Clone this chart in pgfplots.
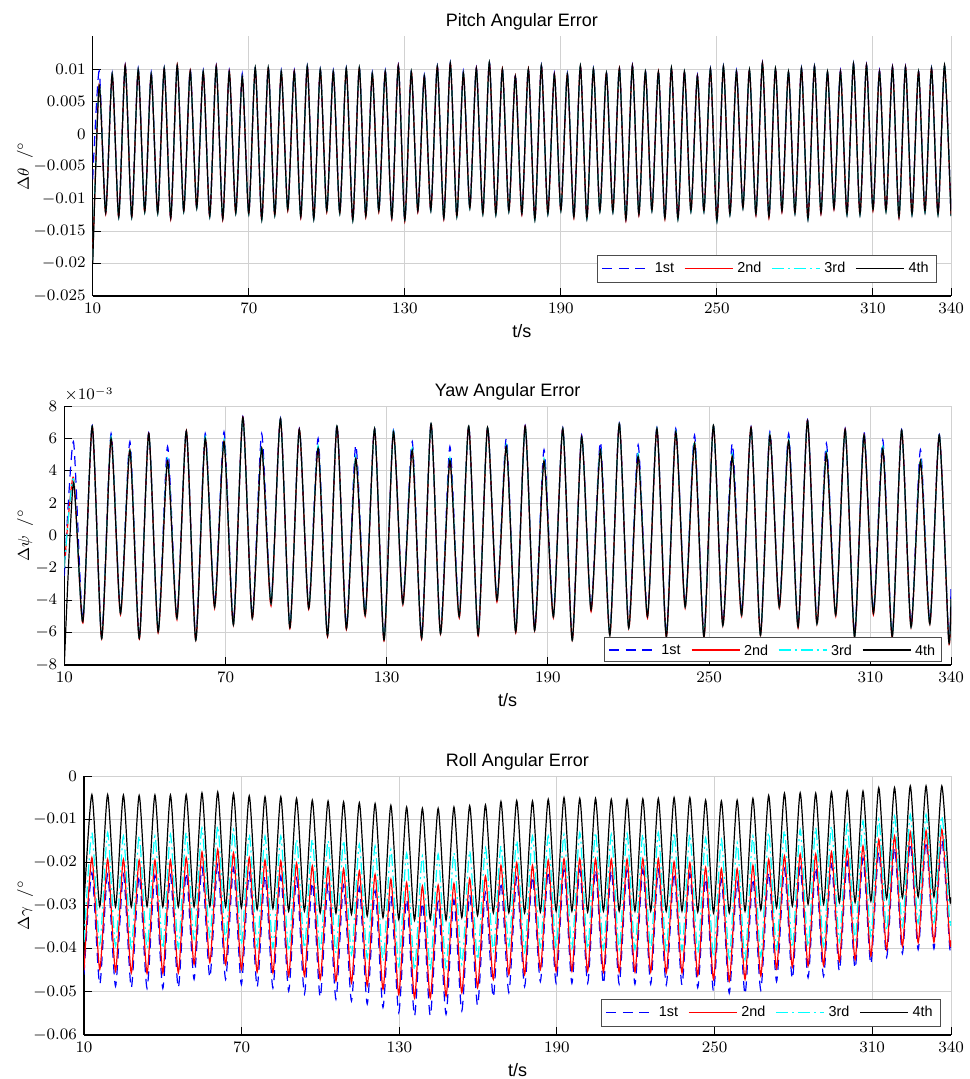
\documentclass[border=0pt]{standalone}
\usepackage{fontspec}
\setmainfont{Liberation Sans}
\usepackage{pgfplots}
\usepackage{pgfplotstable}
\pgfplotsset{compat=1.18}
\definecolor{mblue}{rgb}{0,0,1}
\definecolor{mred}{rgb}{1,0,0}
\definecolor{mcyan}{rgb}{0,1,1}
\definecolor{mblack}{rgb}{0,0,0}

\pgfplotstableread{
t a b d
10 -0.0070 -0.0195 -0.0200
12.5 0.0097 0.0076 0.0075
15 -0.0121 -0.0123 -0.0122
17.5 0.0094 0.0092 0.0092
20 -0.0127 -0.0129 -0.0128
22.5 0.0106 0.0105 0.0105
25 -0.0127 -0.0129 -0.0128
27.5 0.0101 0.0099 0.0099
30 -0.0119 -0.0121 -0.0120
32.5 0.0095 0.0092 0.0092
35 -0.0121 -0.0123 -0.0122
37.5 0.0102 0.0101 0.0101
40 -0.0129 -0.0131 -0.0130
42.5 0.0107 0.0106 0.0106
45 -0.0118 -0.0120 -0.0119
47.5 0.0100 0.0097 0.0097
50 -0.0113 -0.0115 -0.0114
52.5 0.0098 0.0096 0.0096
55 -0.0126 -0.0128 -0.0127
57.5 0.0105 0.0104 0.0104
60 -0.0130 -0.0132 -0.0131
62.5 0.0098 0.0096 0.0096
65 -0.0121 -0.0123 -0.0122
67.5 0.0093 0.0088 0.0088
70 -0.0122 -0.0124 -0.0123
72.5 0.0103 0.0102 0.0102
75 -0.0131 -0.0133 -0.0132
77.5 0.0103 0.0102 0.0102
80 -0.0124 -0.0126 -0.0125
82.5 0.0098 0.0096 0.0096
85 -0.0116 -0.0118 -0.0117
87.5 0.0098 0.0096 0.0096
90 -0.0127 -0.0129 -0.0128
92.5 0.0105 0.0104 0.0104
95 -0.0130 -0.0132 -0.0131
97.5 0.0100 0.0099 0.0099
100 -0.0118 -0.0120 -0.0119
102.5 0.0098 0.0096 0.0096
105 -0.0121 -0.0123 -0.0122
107.5 0.0102 0.0101 0.0101
110 -0.0132 -0.0134 -0.0133
112.5 0.0103 0.0102 0.0102
115 -0.0126 -0.0128 -0.0127
117.5 0.0095 0.0093 0.0093
120 -0.0118 -0.0120 -0.0119
122.5 0.0098 0.0096 0.0096
125 -0.0129 -0.0131 -0.0130
127.5 0.0106 0.0105 0.0105
130 -0.0132 -0.0134 -0.0133
132.5 0.0098 0.0096 0.0096
135 -0.0118 -0.0120 -0.0119
137.5 0.0091 0.0089 0.0089
140 -0.0117 -0.0119 -0.0118
142.5 0.0105 0.0104 0.0104
145 -0.0129 -0.0131 -0.0130
147.5 0.0110 0.0109 0.0109
150 -0.0126 -0.0128 -0.0127
152.5 0.0097 0.0094 0.0094
155 -0.0113 -0.0115 -0.0114
157.5 0.0102 0.0101 0.0101
160 -0.0122 -0.0124 -0.0123
162.5 0.0111 0.0110 0.0110
165 -0.0123 -0.0125 -0.0124
167.5 0.0101 0.0100 0.0100
170 -0.0118 -0.0120 -0.0119
172.5 0.0093 0.0089 0.0089
175 -0.0122 -0.0124 -0.0123
177.5 0.0101 0.0100 0.0100
180 -0.0131 -0.0133 -0.0132
182.5 0.0106 0.0105 0.0105
185 -0.0122 -0.0124 -0.0123
187.5 0.0094 0.0092 0.0092
190 -0.0117 -0.0119 -0.0118
192.5 0.0094 0.0092 0.0092
195 -0.0127 -0.0129 -0.0128
197.5 0.0106 0.0105 0.0105
200 -0.0129 -0.0131 -0.0130
202.5 0.0101 0.0100 0.0100
205 -0.0118 -0.0120 -0.0119
207.5 0.0096 0.0094 0.0094
210 -0.0119 -0.0121 -0.0120
212.5 0.0102 0.0101 0.0101
215 -0.0131 -0.0133 -0.0132
217.5 0.0106 0.0105 0.0105
220 -0.0123 -0.0125 -0.0124
222.5 0.0098 0.0096 0.0096
225 -0.0117 -0.0119 -0.0118
227.5 0.0098 0.0096 0.0096
230 -0.0129 -0.0131 -0.0130
232.5 0.0103 0.0102 0.0102
235 -0.0130 -0.0132 -0.0131
237.5 0.0098 0.0096 0.0096
240 -0.0118 -0.0120 -0.0119
242.5 0.0091 0.0089 0.0089
245 -0.0118 -0.0120 -0.0119
247.5 0.0101 0.0100 0.0100
250 -0.0133 -0.0135 -0.0134
252.5 0.0105 0.0104 0.0104
255 -0.0123 -0.0125 -0.0124
257.5 0.0098 0.0096 0.0096
260 -0.0113 -0.0115 -0.0114
262.5 0.0100 0.0099 0.0099
265 -0.0123 -0.0125 -0.0124
267.5 0.0110 0.0109 0.0109
270 -0.0127 -0.0129 -0.0128
272.5 0.0102 0.0101 0.0101
275 -0.0118 -0.0120 -0.0119
277.5 0.0098 0.0096 0.0096
280 -0.0121 -0.0123 -0.0122
282.5 0.0102 0.0101 0.0101
285 -0.0130 -0.0132 -0.0131
287.5 0.0105 0.0104 0.0104
290 -0.0121 -0.0123 -0.0122
292.5 0.0098 0.0096 0.0096
295 -0.0114 -0.0116 -0.0115
297.5 0.0098 0.0096 0.0096
300 -0.0123 -0.0125 -0.0124
302.5 0.0109 0.0108 0.0108
305 -0.0123 -0.0125 -0.0124
307.5 0.0107 0.0106 0.0106
310 -0.0116 -0.0118 -0.0117
312.5 0.0098 0.0096 0.0096
315 -0.0118 -0.0120 -0.0119
317.5 0.0104 0.0103 0.0103
320 -0.0127 -0.0129 -0.0128
322.5 0.0104 0.0103 0.0103
325 -0.0123 -0.0125 -0.0124
327.5 0.0098 0.0096 0.0096
330 -0.0119 -0.0121 -0.0120
332.5 0.0102 0.0101 0.0101
335 -0.0123 -0.0125 -0.0124
337.5 0.0107 0.0106 0.0106
340 -0.0125 -0.0127 -0.0126
}\pitchtab

\pgfplotstableread{
t a b c d
10 -2.50 -2.00 -2.00 -8.00
13.40 5.80 3.60 3.50 3.25
16.90 -5.20 -5.40 -5.33 -5.33
20.41 6.80 6.75 6.75 6.75
23.91 -6.20 -6.40 -6.36 -6.36
27.41 6.30 6.00 6.10 6.00
30.91 -4.65 -4.90 -4.80 -4.80
34.42 5.80 5.27 5.40 5.27
37.92 -6.20 -6.40 -6.36 -6.36
41.42 6.35 6.30 6.30 6.30
44.92 -5.80 -6.00 -5.95 -5.95
48.43 5.50 4.60 4.75 4.60
51.93 -4.95 -5.20 -5.10 -5.10
55.43 6.50 6.46 6.46 6.46
58.93 -6.30 -6.50 -6.46 -6.46
62.44 6.30 6.00 6.10 6.00
65.94 -4.25 -4.50 -4.40 -4.40
69.44 6.40 5.80 5.95 5.80
72.94 -5.35 -5.55 -5.50 -5.50
76.45 7.35 7.30 7.30 7.30
79.95 -4.95 -5.15 -5.10 -5.10
83.45 6.30 5.40 5.55 5.40
86.95 -4.05 -4.35 -4.20 -4.20
90.46 7.25 7.20 7.20 7.20
93.96 -5.55 -5.75 -5.70 -5.70
97.46 6.60 6.55 6.55 6.55
100.96 -4.35 -4.55 -4.50 -4.50
104.47 6.00 5.40 5.55 5.40
107.97 -6.05 -6.25 -6.20 -6.20
111.47 6.80 6.75 6.75 6.75
114.97 -5.60 -5.80 -5.75 -5.75
118.48 5.60 4.75 4.90 4.75
121.98 -4.75 -5.00 -4.90 -4.90
125.48 6.65 6.60 6.60 6.60
128.98 -6.30 -6.50 -6.46 -6.46
132.49 6.50 6.40 6.45 6.40
135.99 -4.05 -4.30 -4.20 -4.20
139.49 5.80 5.27 5.40 5.27
142.99 -6.20 -6.40 -6.36 -6.36
146.50 6.95 6.90 6.90 6.90
150.00 -5.90 -6.10 -6.05 -6.05
153.50 5.50 4.65 4.80 4.65
157.00 -4.85 -5.10 -5.00 -5.00
160.51 6.80 6.75 6.75 6.75
164.01 -6.00 -6.20 -6.15 -6.15
167.51 6.70 6.67 6.67 6.67
171.01 -3.85 -4.10 -4.00 -4.00
174.52 6.00 5.50 5.60 5.50
178.02 -5.80 -6.00 -5.95 -5.95
181.52 6.80 6.75 6.75 6.75
185.02 -5.70 -5.90 -5.85 -5.85
188.53 5.30 4.60 4.75 4.60
192.03 -4.85 -5.10 -5.00 -5.00
195.53 6.65 6.60 6.60 6.60
199.03 -6.30 -6.50 -6.46 -6.46
202.54 6.20 6.10 6.15 6.10
206.04 -4.45 -4.70 -4.60 -4.60
209.54 5.80 5.27 5.40 5.27
213.04 -6.00 -6.20 -6.15 -6.15
216.55 6.95 6.90 6.90 6.90
220.05 -5.55 -5.75 -5.70 -5.70
223.55 5.60 4.90 5.05 4.90
227.05 -4.85 -5.10 -5.00 -5.00
230.56 6.65 6.60 6.60 6.60
234.06 -6.10 -6.30 -6.25 -6.25
237.56 6.60 6.40 6.45 6.40
241.06 -4.25 -4.50 -4.40 -4.40
244.57 6.20 5.70 5.85 5.70
248.07 -6.10 -6.30 -6.25 -6.25
251.57 6.85 6.80 6.80 6.80
255.07 -5.40 -5.60 -5.55 -5.55
258.58 5.70 4.90 5.05 4.90
262.08 -4.75 -5.00 -4.90 -4.90
265.58 6.70 6.67 6.67 6.67
269.08 -6.00 -6.20 -6.15 -6.15
272.59 6.40 6.20 6.25 6.20
276.09 -4.25 -4.50 -4.40 -4.40
279.59 6.30 5.85 5.95 5.85
283.09 -5.50 -5.70 -5.65 -5.65
286.60 7.15 7.10 7.10 7.10
290.10 -5.30 -5.50 -5.45 -5.45
293.60 5.70 5.06 5.20 5.06
297.10 -4.75 -5.00 -4.90 -4.90
300.61 6.60 6.54 6.54 6.54
304.11 -6.10 -6.30 -6.25 -6.25
307.61 6.40 6.20 6.25 6.20
311.11 -4.65 -4.90 -4.80 -4.80
314.62 5.90 5.37 5.50 5.37
318.12 -6.10 -6.30 -6.25 -6.25
321.62 6.55 6.50 6.50 6.50
325.12 -5.50 -5.70 -5.65 -5.65
328.63 5.30 4.60 4.75 4.60
332.13 -5.30 -5.50 -5.45 -5.45
335.63 6.25 6.20 6.20 6.20
339.13 -6.30 -6.50 -6.46 -6.46
340 -3.20 -4.00 -3.90 -3.90
}\yawtab

\pgfplotstableread{
t a b c d
10 -0.0460 -0.0450 -0.0385 -0.0295
13.0 -0.0224 -0.0189 -0.0131 -0.0043
16.0 -0.0483 -0.0448 -0.0390 -0.0302
19.0 -0.0228 -0.0193 -0.0131 -0.0043
22.0 -0.0487 -0.0452 -0.0394 -0.0303
25.0 -0.0228 -0.0193 -0.0139 -0.0044
28.0 -0.0491 -0.0456 -0.0398 -0.0303
31.0 -0.0230 -0.0195 -0.0139 -0.0045
34.0 -0.0492 -0.0457 -0.0399 -0.0302
37.0 -0.0230 -0.0195 -0.0139 -0.0044
40.0 -0.0492 -0.0457 -0.0399 -0.0303
42.9 -0.0230 -0.0195 -0.0135 -0.0044
45.9 -0.0491 -0.0456 -0.0398 -0.0303
48.9 -0.0224 -0.0189 -0.0131 -0.0043
51.9 -0.0471 -0.0436 -0.0378 -0.0303
54.9 -0.0211 -0.0176 -0.0120 -0.0039
57.9 -0.0467 -0.0432 -0.0374 -0.0302
60.9 -0.0205 -0.0170 -0.0116 -0.0037
63.9 -0.0471 -0.0436 -0.0378 -0.0303
66.9 -0.0213 -0.0178 -0.0124 -0.0041
69.9 -0.0483 -0.0448 -0.0390 -0.0305
72.9 -0.0224 -0.0189 -0.0135 -0.0046
75.9 -0.0489 -0.0454 -0.0396 -0.0309
78.9 -0.0230 -0.0195 -0.0139 -0.0048
81.9 -0.0491 -0.0456 -0.0398 -0.0307
84.9 -0.0232 -0.0197 -0.0139 -0.0048
87.9 -0.0498 -0.0463 -0.0405 -0.0313
90.9 -0.0237 -0.0202 -0.0147 -0.0052
93.9 -0.0505 -0.0463 -0.0398 -0.0313
96.9 -0.0246 -0.0208 -0.0147 -0.0056
99.9 -0.0513 -0.0471 -0.0406 -0.0317
102.9 -0.0250 -0.0212 -0.0150 -0.0058
105.9 -0.0517 -0.0475 -0.0410 -0.0318
108.8 -0.0253 -0.0215 -0.0150 -0.0060
111.8 -0.0521 -0.0479 -0.0414 -0.0320
114.8 -0.0258 -0.0220 -0.0158 -0.0062
117.8 -0.0528 -0.0486 -0.0421 -0.0324
120.8 -0.0266 -0.0228 -0.0162 -0.0064
123.8 -0.0536 -0.0494 -0.0429 -0.0328
126.8 -0.0277 -0.0239 -0.0170 -0.0068
129.8 -0.0548 -0.0506 -0.0441 -0.0332
132.8 -0.0285 -0.0247 -0.0179 -0.0072
135.8 -0.0556 -0.0514 -0.0449 -0.0334
138.8 -0.0293 -0.0255 -0.0185 -0.0075
141.8 -0.0556 -0.0514 -0.0449 -0.0332
144.8 -0.0291 -0.0253 -0.0181 -0.0075
147.8 -0.0552 -0.0510 -0.0445 -0.0334
150.8 -0.0287 -0.0249 -0.0178 -0.0072
153.8 -0.0544 -0.0502 -0.0437 -0.0328
156.8 -0.0276 -0.0238 -0.0174 -0.0069
159.8 -0.0532 -0.0490 -0.0425 -0.0323
162.8 -0.0270 -0.0232 -0.0166 -0.0067
165.8 -0.0513 -0.0471 -0.0406 -0.0317
168.7 -0.0245 -0.0207 -0.0162 -0.0059
171.7 -0.0502 -0.0460 -0.0395 -0.0317
174.7 -0.0235 -0.0201 -0.0150 -0.0057
177.7 -0.0488 -0.0460 -0.0408 -0.0317
180.7 -0.0232 -0.0207 -0.0139 -0.0058
183.7 -0.0476 -0.0448 -0.0396 -0.0315
186.7 -0.0220 -0.0195 -0.0139 -0.0054
189.7 -0.0480 -0.0452 -0.0400 -0.0313
192.7 -0.0217 -0.0192 -0.0135 -0.0050
195.7 -0.0480 -0.0452 -0.0400 -0.0313
198.7 -0.0217 -0.0192 -0.0131 -0.0052
201.7 -0.0480 -0.0452 -0.0400 -0.0315
204.7 -0.0217 -0.0192 -0.0131 -0.0052
207.7 -0.0482 -0.0454 -0.0402 -0.0313
210.7 -0.0218 -0.0193 -0.0135 -0.0054
213.7 -0.0482 -0.0454 -0.0402 -0.0313
216.7 -0.0218 -0.0193 -0.0133 -0.0054
219.7 -0.0482 -0.0454 -0.0402 -0.0313
222.7 -0.0217 -0.0192 -0.0135 -0.0053
225.7 -0.0482 -0.0454 -0.0402 -0.0313
228.6 -0.0217 -0.0192 -0.0131 -0.0052
231.6 -0.0484 -0.0456 -0.0404 -0.0313
234.6 -0.0224 -0.0199 -0.0131 -0.0050
237.6 -0.0484 -0.0456 -0.0404 -0.0313
240.6 -0.0226 -0.0201 -0.0135 -0.0050
243.6 -0.0490 -0.0462 -0.0410 -0.0315
246.6 -0.0237 -0.0212 -0.0143 -0.0056
249.6 -0.0499 -0.0471 -0.0419 -0.0317
252.6 -0.0240 -0.0215 -0.0147 -0.0058
255.6 -0.0503 -0.0475 -0.0423 -0.0317
258.6 -0.0245 -0.0215 -0.0154 -0.0056
261.6 -0.0506 -0.0471 -0.0426 -0.0313
264.6 -0.0237 -0.0207 -0.0139 -0.0052
267.6 -0.0496 -0.0463 -0.0418 -0.0310
270.6 -0.0223 -0.0193 -0.0131 -0.0045
273.6 -0.0476 -0.0446 -0.0401 -0.0305
276.6 -0.0215 -0.0185 -0.0127 -0.0040
279.6 -0.0470 -0.0442 -0.0397 -0.0301
282.6 -0.0211 -0.0181 -0.0124 -0.0039
285.6 -0.0467 -0.0440 -0.0395 -0.0297
288.5 -0.0211 -0.0181 -0.0120 -0.0040
291.5 -0.0464 -0.0439 -0.0394 -0.0297
294.5 -0.0205 -0.0176 -0.0116 -0.0037
297.5 -0.0452 -0.0429 -0.0384 -0.0293
300.5 -0.0198 -0.0170 -0.0112 -0.0035
303.5 -0.0446 -0.0425 -0.0380 -0.0293
306.5 -0.0190 -0.0162 -0.0104 -0.0035
309.5 -0.0436 -0.0417 -0.0372 -0.0290
312.5 -0.0175 -0.0147 -0.0100 -0.0027
315.5 -0.0420 -0.0402 -0.0357 -0.0284
318.5 -0.0165 -0.0139 -0.0093 -0.0027
321.5 -0.0411 -0.0394 -0.0349 -0.0282
324.5 -0.0155 -0.0130 -0.0089 -0.0023
327.5 -0.0402 -0.0386 -0.0341 -0.0280
330.5 -0.0151 -0.0127 -0.0089 -0.0023
333.5 -0.0400 -0.0385 -0.0340 -0.0280
336.5 -0.0147 -0.0124 -0.0093 -0.0023
339.5 -0.0397 -0.0382 -0.0337 -0.0282
340 -0.0396 -0.0381 -0.0336 -0.0281
}\rolltab

\pgfplotsset{
  myax/.style={
    scale only axis, enlargelimits=false, xmin=10, xmax=340,
    xtick={10,70,130,190,250,310,340},
    scaled y ticks=false, scaled x ticks=false,
    axis x line*=bottom, axis y line*=left,
    axis line style={-, black, line width=0.6pt},
    tick align=inside, major tick length=4pt,
    tick style={black, line width=0.5pt},
    grid=major, major grid style={black!18, line width=0.5pt},
    tick label style={font=\fontsize{7.6}{8}\selectfont},
    title style={font=\fontsize{9}{10}\selectfont, at={(0.5,1)}, anchor=south, yshift=-6.5pt},
    xlabel style={font=\fontsize{9}{10}\selectfont, yshift=1.5pt},
    ylabel style={font=\fontsize{8}{9}\selectfont, anchor=center},
    xlabel={t/s},
    legend columns=4,
    legend cell align=left,
    legend style={draw=black!70, line width=0.5pt, fill=white,
      font=\fontsize{7.2}{8}\selectfont, inner xsep=2pt, inner ysep=1.5pt,
      /tikz/every even column/.append style={column sep=3pt}},
  },
  s1/.style={draw=mblue, line width=0.6pt, dash pattern=on 5pt off 3.3pt, smooth, tension=0.4,
    legend image code/.code={\draw[mblue, line width=0.6pt, dash pattern=on 5pt off 3.3pt] (0pt,0pt) -- (24pt,0pt);}},
  s2/.style={draw=mred, line width=0.6pt, solid, smooth, tension=0.4,
    legend image code/.code={\draw[mred, line width=0.6pt] (0pt,0pt) -- (24pt,0pt);}},
  s3/.style={draw=mcyan, line width=0.6pt, dash pattern=on 6pt off 2pt on 1pt off 2pt, smooth, tension=0.4,
    legend image code/.code={\draw[mcyan, line width=0.6pt, dash pattern=on 6pt off 2pt on 1pt off 2pt] (0pt,0pt) -- (24pt,0pt);}},
  s4/.style={draw=mblack, line width=0.6pt, solid, smooth, tension=0.4,
    legend image code/.code={\draw[mblack, line width=0.6pt] (0pt,0pt) -- (24pt,0pt);}},
}

\begin{document}
\begin{tikzpicture}
\path[use as bounding box] (0pt,0pt) rectangle (484.5pt,539.5pt);

% Pitch
\begin{axis}[myax,
  at={(46.35pt,391.5pt)}, anchor=south west,
  width=429.15pt, height=130pt,
  ymin=-0.025, ymax=0.0151,
  ytick={-0.025,-0.02,-0.015,-0.01,-0.005,0,0.005,0.01},
  yticklabels={$-0.025$,$-0.02$,$-0.015$,$-0.01$,$-0.005$,$0$,$0.005$,$0.01$},
  title={Pitch Angular Error},
  ylabel={$\Delta\theta\;\;/^{\circ}$},
  ylabel style={at={(axis description cs:-0.0789,0.5)}},
  legend style={at={(0.9837,0.05)}, anchor=south east},
]
\addplot[s1] table[x=t,y=a] {\pitchtab};
\addlegendentry{1st}
\addplot[s2] table[x=t,y=b] {\pitchtab};
\addlegendentry{2nd}
\addplot[s3] table[x=t,y=b] {\pitchtab};
\addlegendentry{3rd}
\addplot[s4] table[x=t,y=d] {\pitchtab};
\addlegendentry{4th}
\end{axis}

% Yaw
\begin{axis}[myax, name=yawax,
  at={(32.15pt,207pt)}, anchor=south west,
  width=443.35pt, height=129.5pt,
  ymin=-8, ymax=8,
  ytick={-8,-6,-4,-2,0,2,4,6,8},
  yticklabels={$-8$,$-6$,$-4$,$-2$,$0$,$2$,$4$,$6$,$8$},
  title={Yaw Angular Error},
  ylabel={$\Delta\psi\;\;/^{\circ}$},
  ylabel style={at={(axis description cs:-0.0443,0.5)}},
]
\addplot[s1] table[x=t,y=a] {\yawtab};
\addplot[s2] table[x=t,y=b] {\yawtab};
\addplot[s3] table[x=t,y=c] {\yawtab};
\addplot[s4] table[x=t,y=d] {\yawtab};
\end{axis}
\node[anchor=south west, inner sep=0pt, yshift=2pt, font=\fontsize{7.6}{8}\selectfont] at (yawax.north west) {$\times10^{-3}$};
% legend of the yaw axis
\begin{scope}[shift={(302pt,208.5pt)}]
\draw[black!70, line width=0.5pt, fill=white] (0pt,0pt) rectangle (168.5pt,12pt);
\draw[mblue, line width=0.6pt, dash pattern=on 5pt off 3.3pt] (2.5pt,6pt) -- (26.5pt,6pt);
\node[anchor=west, inner sep=0pt, font=\fontsize{7.2}{8}\selectfont] at (28.5pt,6pt) {1st};
\draw[mred, line width=0.6pt] (43.8pt,6pt) -- (67.8pt,6pt);
\node[anchor=west, inner sep=0pt, font=\fontsize{7.2}{8}\selectfont] at (69.8pt,6pt) {2nd};
\draw[mcyan, line width=0.6pt, dash pattern=on 6pt off 2pt on 1pt off 2pt] (87.3pt,6pt) -- (111.3pt,6pt);
\node[anchor=west, inner sep=0pt, font=\fontsize{7.2}{8}\selectfont] at (113.3pt,6pt) {3rd};
\draw[mblack, line width=0.6pt] (129.3pt,6pt) -- (153.3pt,6pt);
\node[anchor=west, inner sep=0pt, font=\fontsize{7.2}{8}\selectfont] at (155.3pt,6pt) {4th};
\end{scope}

% Roll
\begin{axis}[myax,
  at={(42pt,22pt)}, anchor=south west,
  width=433.5pt, height=129.5pt,
  ymin=-0.06, ymax=0,
  ytick={-0.06,-0.05,-0.04,-0.03,-0.02,-0.01,0},
  yticklabels={$-0.06$,$-0.05$,$-0.04$,$-0.03$,$-0.02$,$-0.01$,$0$},
  title={Roll Angular Error},
  ylabel={$\Delta\gamma\;\;/^{\circ}$},
  ylabel style={at={(axis description cs:-0.068,0.5)}},
  legend style={at={(0.9885,0.031)}, anchor=south east},
]
\addplot[s1] table[x=t,y=a] {\rolltab};
\addlegendentry{1st}
\addplot[s2] table[x=t,y=b] {\rolltab};
\addlegendentry{2nd}
\addplot[s3] table[x=t,y=c] {\rolltab};
\addlegendentry{3rd}
\addplot[s4] table[x=t,y=d] {\rolltab};
\addlegendentry{4th}
\end{axis}
\end{tikzpicture}
\end{document}
